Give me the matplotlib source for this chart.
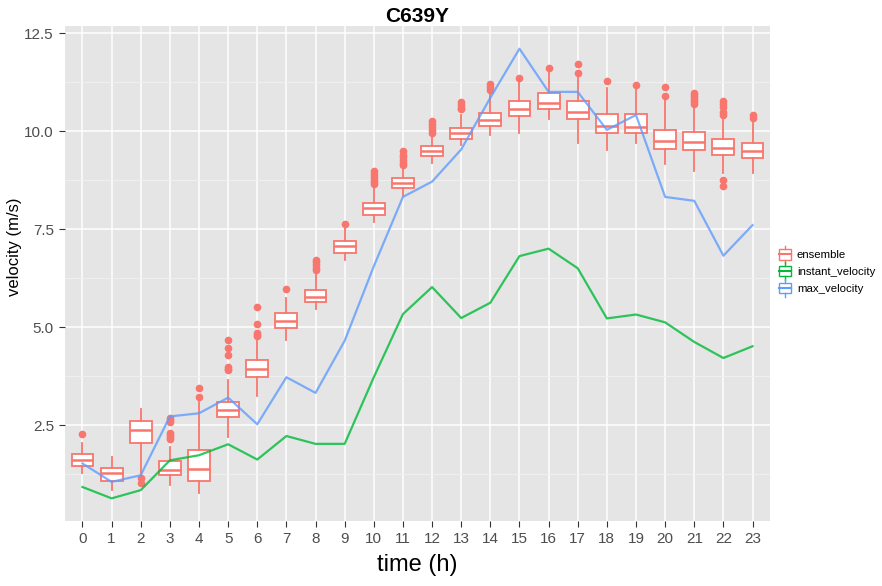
import numpy as np
import matplotlib
matplotlib.use("Agg")
import matplotlib.pyplot as plt
from matplotlib.legend_handler import HandlerBase
from matplotlib.patches import Rectangle
from matplotlib.lines import Line2D

plt.rcParams['font.family'] = ['Liberation Sans', 'DejaVu Sans']

hours = list(range(24))

# ensemble boxplot stats
q1 = [1.45, 1.08, 2.03, 1.22, 1.07, 2.70, 3.73, 4.97, 5.63, 6.90, 7.87, 8.54,
      9.36, 9.81, 10.14, 10.38, 10.55, 10.31, 9.94, 9.96, 9.54, 9.52, 9.39, 9.30]
med = [1.62, 1.28, 2.37, 1.35, 1.37, 2.88, 3.93, 5.15, 5.77, 7.07, 8.03, 8.67,
       9.49, 9.94, 10.28, 10.56, 10.72, 10.49, 10.13, 10.11, 9.75, 9.73, 9.57, 9.50]
q3 = [1.76, 1.40, 2.61, 1.59, 1.86, 3.09, 4.16, 5.35, 5.94, 7.20, 8.16, 8.79,
      9.62, 10.09, 10.47, 10.77, 10.98, 10.77, 10.43, 10.43, 10.03, 9.98, 9.79, 9.70]
whislo = [1.28, 0.84, 1.25, 0.97, 0.76, 2.20, 3.24, 4.67, 5.45, 6.71, 7.69, 8.34,
          9.18, 9.64, 9.90, 9.94, 10.32, 9.70, 9.52, 9.69, 9.16, 8.99, 8.92, 8.92]
whishi = [2.03, 1.69, 2.92, 1.95, 3.09, 3.65, 4.74, 5.73, 6.37, 7.52, 8.58, 9.09,
          9.90, 10.41, 10.96, 11.26, 11.54, 11.39, 11.09, 11.09, 10.79, 10.62, 10.36, 10.24]
fliers = [[2.26], [], [1.16, 1.01],
          [2.68, 2.63, 2.58, 2.30, 2.25, 2.20, 2.15],
          [3.44, 3.21],
          [4.67, 4.46, 4.29, 3.99, 3.93, 3.90],
          [5.50, 5.09, 4.85, 4.80, 4.77],
          [5.96],
          [6.72, 6.65, 6.58, 6.50, 6.45],
          [7.63],
          [8.97, 8.90, 8.83, 8.76, 8.70, 8.64],
          [9.48, 9.40, 9.33, 9.25, 9.18, 9.13],
          [10.25, 10.18, 10.10, 10.03, 9.96],
          [10.74, 10.66, 10.60, 10.55],
          [11.19, 11.12, 11.05],
          [11.36],
          [11.61],
          [11.71, 11.47],
          [11.28],
          [11.17],
          [11.13, 10.90],
          [10.96, 10.91, 10.86, 10.80, 10.74, 10.68],
          [10.77, 10.70, 10.62, 10.48, 10.42, 8.75, 8.60],
          [10.41, 10.33]]

max_velocity = [1.52, 1.05, 1.22, 2.72, 2.80, 3.20, 2.52, 3.72, 3.32, 4.65, 6.55, 8.32,
                8.71, 9.53, 10.85, 12.10, 11.00, 11.00, 10.03, 10.41, 8.32, 8.22, 6.82, 7.60]
instant_velocity = [0.92, 0.63, 0.84, 1.60, 1.73, 2.01, 1.62, 2.22, 2.02, 2.02, 3.72, 5.33,
                    6.02, 5.23, 5.62, 6.81, 7.00, 6.50, 5.22, 5.32, 5.12, 4.62, 4.21, 4.51]

red = '#F8766D'
green = '#00BA38'
blue = '#619CFF'

stats = []
for i in hours:
    stats.append(dict(med=med[i], q1=q1[i], q3=q3[i], whislo=whislo[i],
                      whishi=whishi[i], fliers=fliers[i]))

fig = plt.figure(figsize=(8.82, 5.86), dpi=100)
ax = fig.add_axes([65 / 882, 1 - 520.7 / 586, (770 - 65) / 882, (520.7 - 26) / 586])
ax.set_facecolor('#E5E5E5')

ax.bxp(stats, positions=hours, widths=0.75, patch_artist=True, showcaps=False,
       boxprops=dict(facecolor='white', edgecolor=red, linewidth=1.3),
       medianprops=dict(color=red, linewidth=1.8),
       whiskerprops=dict(color=red, linewidth=1.3),
       flierprops=dict(marker='o', markerfacecolor=red, markeredgecolor=red,
                       markersize=4.5, linestyle='none'),
       zorder=3)

ax.plot(hours, instant_velocity, color=green, lw=1.6, alpha=0.8, zorder=4)
ax.plot(hours, max_velocity, color=blue, lw=1.6, alpha=0.8, zorder=4)

ax.set_xlim(-0.6, 23.6)
ax.set_ylim(0.06, 12.68)
ax.set_xticks(hours)
ax.set_xticklabels([str(h) for h in hours])
ax.set_yticks([2.5, 5.0, 7.5, 10.0, 12.5])
ax.set_yticklabels(['2.5', '5.0', '7.5', '10.0', '12.5'])
ax.set_yticks([1.25, 3.75, 6.25, 8.75, 11.25], minor=True)
ax.grid(True, which='major', color='white', lw=1.1)
ax.grid(True, which='minor', axis='y', color='#F2F2F2', lw=0.6)
ax.set_axisbelow(True)
for s in ax.spines.values():
    s.set_visible(False)
ax.tick_params(which='major', length=4, color='#333333', labelsize=11, labelcolor='#4D4D4D', pad=4)
ax.tick_params(which='minor', length=0)

ax.set_title('C639Y', fontsize=15, fontweight='bold', pad=3)
ax.set_xlabel('time (h)', fontsize=17, labelpad=6)
ax.set_ylabel('velocity (m/s)', fontsize=12)
ax.yaxis.set_label_coords(-43 / 705, 0.553)


class BoxKey(HandlerBase):
    def create_artists(self, legend, orig_handle, xdescent, ydescent, width, height, fontsize, trans):
        c = orig_handle.get_color()
        cx = width / 2 - xdescent
        bw = width * 0.85
        bh = height * 0.9
        by = height / 2 - ydescent - bh / 2
        rect = Rectangle((cx - bw / 2, by), bw, bh, facecolor='white', edgecolor=c, lw=1.0, transform=trans)
        w1 = Line2D([cx, cx], [by - height * 0.3, by], color=c, lw=1.0, transform=trans)
        w2 = Line2D([cx, cx], [by + bh, by + bh + height * 0.3], color=c, lw=1.0, transform=trans)
        m = Line2D([cx - bw / 2, cx + bw / 2], [height / 2 - ydescent] * 2, color=c, lw=1.5, transform=trans)
        return [rect, w1, w2, m]


labels = ['ensemble', 'instant_velocity', 'max_velocity']
handles = [Line2D([], [], color=red), Line2D([], [], color=green), Line2D([], [], color=blue)]
fig.legend(handles, labels, handler_map={Line2D: BoxKey()}, loc='upper left',
           bbox_to_anchor=(773 / 882, 1 - 244 / 586), frameon=False, fontsize=8.2,
           handlelength=1.3, handleheight=1.2, handletextpad=0.4, labelspacing=0.45,
           borderaxespad=0)

fig.savefig('out.png', dpi=100)
